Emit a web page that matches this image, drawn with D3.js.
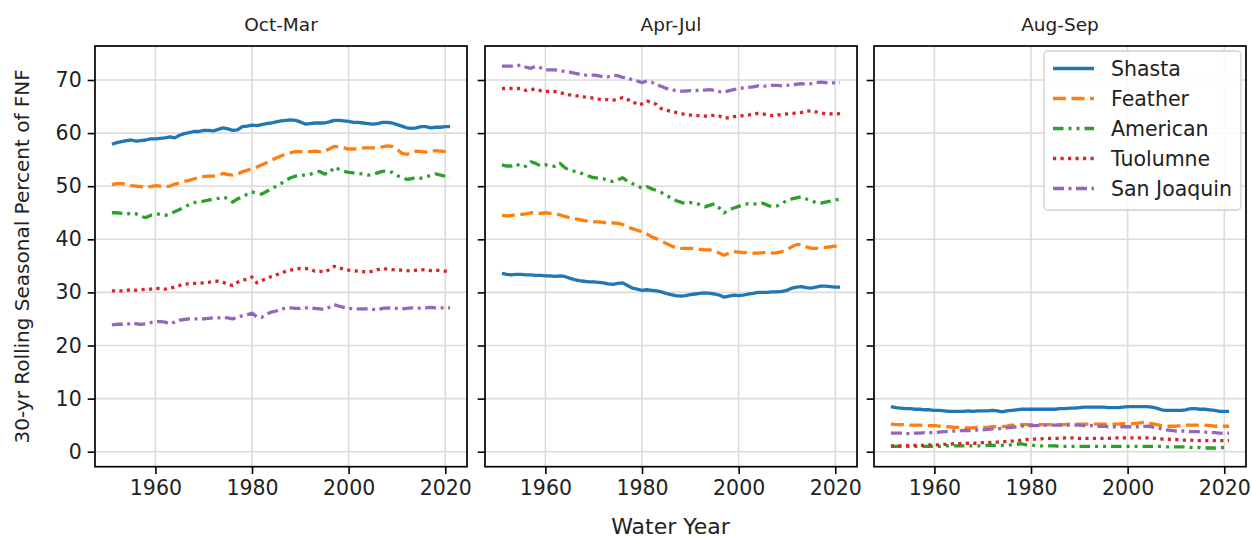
<!DOCTYPE html>
<html>
<head>
<meta charset="utf-8">
<script src="https://cdn.jsdelivr.net/npm/d3@7"></script>
<style>
  html, body { margin: 0; padding: 0; background: #fff; }
  svg { display: block; font-family: "DejaVu Sans", sans-serif; }
</style>
</head>
<body>
<svg id="chart" width="1252" height="539"></svg>
<script>
// Water years covered by the 30-yr rolling window
const years = d3.range(1951, 2022);

const seasons = ["Oct-Mar", "Apr-Jul", "Aug-Sep"];
const basins = ["Shasta", "Feather", "American", "Tuolumne", "San Joaquin"];
const yTicks = [0, 10, 20, 30, 40, 50, 60, 70];
const xTicks = [1960, 1980, 2000, 2020];

// Oct-Mar
const shastaOctMar = [57.9,58.2,58.4,58.6,58.7,58.5,58.6,58.7,58.9,58.9,59.0,59.1,59.3,59.1,59.6,59.9,60.1,60.3,60.3,60.5,60.5,60.4,60.7,61.0,60.8,60.5,60.6,61.2,61.3,61.5,61.4,61.6,61.8,61.9,62.1,62.3,62.4,62.5,62.4,62.1,61.7,61.8,61.9,61.9,61.9,62.1,62.4,62.4,62.3,62.2,62.0,62.0,61.9,61.8,61.7,61.8,62.0,62.0,61.9,61.6,61.3,61.0,60.9,61.0,61.2,61.2,61.0,61.1,61.1,61.2,61.2];
const featherOctMar = [50.3,50.5,50.5,50.3,50.1,50.0,49.9,49.7,49.9,50.1,50.0,49.9,50.0,50.4,50.6,50.9,51.1,51.4,51.6,51.8,51.9,51.9,52.0,52.4,52.2,52.1,52.3,52.7,53.0,53.3,53.6,54.0,54.4,54.9,55.3,55.7,56.1,56.3,56.5,56.5,56.4,56.5,56.6,56.5,56.6,57.0,57.5,57.4,57.2,57.0,57.0,57.1,57.2,57.2,57.2,57.3,57.4,57.6,57.5,57.0,56.2,56.0,56.3,56.6,56.5,56.4,56.5,56.7,56.6,56.5,56.3];
const americanOctMar = [45.0,45.0,44.9,44.7,45.0,44.8,44.3,44.1,44.5,44.8,44.7,44.5,44.8,45.2,45.6,46.1,46.5,46.9,47.1,47.2,47.4,47.5,47.7,48.0,47.6,47.0,47.6,48.0,48.5,48.9,48.7,48.5,49.0,49.5,50.0,50.5,51.1,51.6,51.9,52.1,52.1,52.2,52.6,52.8,52.3,52.4,53.6,53.2,52.8,52.6,52.5,52.4,52.3,52.1,52.2,52.5,52.8,52.9,52.6,52.0,51.6,51.3,51.4,51.7,51.5,51.8,52.0,52.3,52.1,51.9,51.7];
const tuolumneOctMar = [30.3,30.3,30.3,30.3,30.6,30.4,30.5,30.6,30.6,30.8,30.7,30.6,30.8,31.0,31.3,31.6,31.6,31.7,31.7,31.8,31.9,32.1,32.1,31.9,31.5,31.3,31.9,32.3,32.5,32.9,31.8,32.2,32.6,33.0,33.3,33.6,34.0,34.2,34.4,34.5,34.5,34.4,34.0,34.0,33.8,34.3,34.9,34.6,34.4,34.2,34.1,34.0,33.9,33.8,34.0,34.3,34.5,34.4,34.3,34.2,34.2,34.1,34.0,34.2,34.3,34.2,34.1,34.2,34.1,34.0,34.0];
const sanJoaquinOctMar = [23.9,24.0,24.0,23.9,24.3,24.1,24.0,24.1,24.3,24.5,24.5,24.4,24.1,24.4,24.8,24.9,25.0,25.0,25.0,25.0,25.1,25.2,25.2,25.3,25.2,25.0,25.4,25.6,25.8,26.1,25.4,25.3,25.9,26.3,26.5,26.8,27.1,27.1,27.0,27.0,27.1,27.1,27.0,26.9,26.8,27.2,27.7,27.4,27.2,27.0,26.9,26.9,26.9,26.9,26.8,26.7,27.0,27.1,27.0,27.0,26.9,27.0,27.1,27.1,27.0,27.1,27.2,27.1,27.1,27.1,27.1];

// Apr-Jul
const shastaAprJul = [33.6,33.4,33.3,33.4,33.4,33.3,33.3,33.2,33.2,33.1,33.1,33.0,33.1,33.0,32.7,32.4,32.2,32.1,32.0,32.0,31.9,31.8,31.6,31.5,31.7,31.8,31.3,30.8,30.6,30.4,30.5,30.4,30.3,30.1,29.8,29.6,29.4,29.3,29.4,29.6,29.7,29.8,29.9,29.8,29.7,29.5,29.1,29.3,29.5,29.4,29.5,29.7,29.8,30.0,30.0,30.0,30.1,30.1,30.2,30.4,30.8,31.0,31.1,30.9,30.8,31.0,31.2,31.2,31.1,31.0,31.0];
const featherAprJul = [44.5,44.4,44.5,44.6,44.7,44.8,45.0,45.0,44.9,45.0,44.9,44.8,44.6,44.3,44.1,43.9,43.7,43.5,43.4,43.3,43.3,43.2,43.0,43.1,43.0,42.8,42.3,42.0,41.7,41.4,41.0,40.5,40.1,39.7,39.2,38.8,38.4,38.3,38.3,38.3,38.2,38.1,38.0,38.0,37.8,37.4,37.0,37.4,37.7,37.6,37.5,37.5,37.4,37.4,37.5,37.5,37.4,37.5,37.7,38.0,38.6,39.0,39.0,38.6,38.3,38.3,38.4,38.5,38.6,38.7,38.8];
const americanAprJul = [54.0,53.8,53.8,54.2,53.6,53.8,54.6,54.3,53.8,54.0,54.0,53.7,54.3,53.5,53.0,52.8,52.6,52.2,51.9,51.6,51.5,51.4,51.0,50.9,51.2,51.6,50.9,50.5,50.1,49.6,49.9,49.5,49.2,48.8,48.3,47.8,47.3,47.0,46.7,46.9,46.9,46.5,46.1,46.4,46.7,45.9,45.0,45.6,45.9,46.2,46.5,46.7,46.7,46.6,46.8,46.4,46.1,46.3,46.8,47.3,47.6,47.8,48.0,47.6,47.3,46.9,46.8,47.0,47.2,47.4,47.6];
const tuolumneAprJul = [68.4,68.4,68.4,68.4,68.4,68.0,68.2,68.3,68.0,67.8,67.9,67.8,67.6,67.4,67.2,67.0,67.0,66.8,66.7,66.6,66.4,66.3,66.3,66.2,66.4,66.7,66.3,66.1,65.3,65.5,66.0,65.8,65.4,64.6,64.3,64.1,63.9,63.7,63.5,63.4,63.3,63.3,63.2,63.2,63.4,63.2,62.8,62.9,63.1,63.2,63.3,63.4,63.6,63.7,63.6,63.4,63.3,63.4,63.5,63.6,63.7,63.8,63.9,64.1,64.2,64.0,63.8,63.6,63.6,63.7,63.6];
const sanJoaquinAprJul = [72.6,72.6,72.6,72.7,72.8,72.4,72.2,72.6,72.3,71.9,71.9,71.9,71.8,71.6,71.5,71.3,71.1,70.9,70.9,70.9,70.8,70.6,70.6,70.9,70.8,70.5,70.4,70.0,69.8,69.5,69.8,69.6,69.1,68.8,68.4,68.2,68.0,67.9,67.9,68.0,68.0,68.1,68.1,68.2,68.0,67.8,67.7,68.0,68.2,68.4,68.5,68.6,68.7,68.9,68.8,68.9,69.0,69.0,68.9,69.0,69.1,69.2,69.3,69.2,69.3,69.5,69.6,69.5,69.4,69.5,69.5];

// Aug-Sep
const shastaAugSep = [8.5,8.3,8.2,8.1,8.1,8.0,8.0,7.9,7.9,7.8,7.8,7.7,7.6,7.6,7.6,7.6,7.7,7.6,7.7,7.7,7.7,7.8,7.7,7.5,7.7,7.8,7.9,8.0,8.0,8.0,8.0,8.0,8.0,8.0,8.0,8.1,8.1,8.2,8.2,8.3,8.4,8.4,8.4,8.4,8.4,8.3,8.3,8.3,8.4,8.5,8.5,8.5,8.5,8.5,8.4,8.2,7.9,7.8,7.8,7.8,7.8,7.9,8.1,8.1,8.0,8.0,7.9,7.8,7.6,7.6,7.6];
const featherAugSep = [5.2,5.1,5.1,5.1,5.0,5.0,5.0,4.9,4.9,4.9,4.8,4.7,4.7,4.6,4.6,4.5,4.5,4.5,4.6,4.6,4.6,4.7,4.7,4.7,4.8,5.0,5.0,5.1,5.1,5.1,5.1,5.1,5.1,5.1,5.1,5.1,5.1,5.2,5.2,5.2,5.2,5.2,5.2,5.2,5.2,5.2,5.2,5.2,5.3,5.3,5.3,5.4,5.5,5.5,5.3,5.1,4.9,4.8,4.8,4.8,4.9,5.0,5.0,5.0,5.0,5.0,4.9,4.8,4.8,4.8,4.8];
const americanAugSep = [1.0,1.0,1.0,1.0,1.0,1.0,1.0,1.0,1.0,1.0,1.0,1.1,1.1,1.1,1.1,1.1,1.1,1.1,1.1,1.1,1.2,1.2,1.2,1.2,1.3,1.3,1.4,1.5,1.3,1.2,1.2,1.1,1.1,1.1,1.1,1.0,1.0,1.0,1.0,1.0,1.0,1.0,1.0,1.0,1.0,1.0,1.0,1.0,1.0,1.0,1.0,1.0,1.0,1.0,1.0,1.0,1.0,0.9,0.9,0.9,0.9,0.9,0.8,0.8,0.8,0.7,0.7,0.7,0.8,0.8,0.8];
const tuolumneAugSep = [1.1,1.1,1.1,1.1,1.2,1.2,1.2,1.2,1.3,1.3,1.3,1.4,1.4,1.5,1.5,1.5,1.6,1.6,1.6,1.7,1.7,1.8,1.8,1.9,1.9,2.0,2.0,2.2,2.3,2.3,2.4,2.4,2.5,2.5,2.5,2.5,2.6,2.6,2.6,2.5,2.5,2.5,2.5,2.5,2.5,2.5,2.6,2.6,2.6,2.6,2.6,2.6,2.6,2.6,2.6,2.5,2.4,2.4,2.3,2.3,2.2,2.2,2.2,2.1,2.1,2.1,2.1,2.1,2.1,2.1,2.1];
const sanJoaquinAugSep = [3.5,3.5,3.5,3.4,3.4,3.5,3.5,3.6,3.6,3.6,3.7,3.8,3.8,3.9,3.9,4.0,4.0,4.0,4.1,4.1,4.2,4.3,4.3,4.4,4.5,4.6,4.7,4.8,4.9,4.9,4.9,5.0,5.0,5.0,5.0,5.0,5.0,5.0,5.0,5.0,4.9,4.9,4.9,4.8,4.8,4.7,4.7,4.7,4.7,4.7,4.7,4.7,4.7,4.8,4.7,4.5,4.3,4.1,4.0,3.9,3.9,3.9,3.8,3.8,3.8,3.7,3.6,3.6,3.5,3.5,3.5];

const panelSeries = [
  [shastaOctMar, featherOctMar, americanOctMar, tuolumneOctMar, sanJoaquinOctMar],
  [shastaAprJul, featherAprJul, americanAprJul, tuolumneAprJul, sanJoaquinAprJul],
  [shastaAugSep, featherAugSep, americanAugSep, tuolumneAugSep, sanJoaquinAugSep]
];

// Line styling per basin
const colors = ["#1f77b4", "#ff7f0e", "#2ca02c", "#d62728", "#9467bd"];
const dashes = [null, "13 5.5", "10.5 5 3 5 3 5", "3.2 4.3", "11 4.5 3 4.5"];
const lineW = 3.3;

const svg = d3.select("#chart");
const font = "DejaVu Sans, sans-serif";

const panelLeft = [95, 485, 874];
const panelW = 372;
const plotTop = 46, plotBottom = 466.7;

const y = d3.scaleLinear().domain([-2.82, 76.4]).range([plotBottom, plotTop]);

panelLeft.forEach((left, p) => {
  const x = d3.scaleLinear().domain([1947.5, 2024.5]).range([left, left + panelW]);
  const g = svg.append("g");

  // grid
  g.append("g").selectAll("line").data(xTicks).join("line")
    .attr("x1", d => x(d)).attr("x2", d => x(d))
    .attr("y1", plotTop).attr("y2", plotBottom)
    .attr("stroke", "#dcdcdc").attr("stroke-width", 1.6);
  g.append("g").selectAll("line").data(yTicks).join("line")
    .attr("x1", left).attr("x2", left + panelW)
    .attr("y1", d => y(d)).attr("y2", d => y(d))
    .attr("stroke", "#dcdcdc").attr("stroke-width", 1.6);

  // series
  const line = d3.line().x((d, i) => x(years[i])).y(d => y(d));
  panelSeries[p].forEach((vals, s) => {
    g.append("path").datum(vals)
      .attr("d", line)
      .attr("fill", "none")
      .attr("stroke", colors[s])
      .attr("stroke-width", lineW)
      .attr("stroke-linejoin", "round")
      .attr("stroke-dasharray", dashes[s]);
  });

  // axes
  const xAxis = d3.axisBottom(x).tickValues(xTicks).tickFormat(d3.format("d"))
    .tickSize(7.3).tickPadding(6);
  const gx = g.append("g").attr("transform", `translate(0,${plotBottom})`).call(xAxis);
  gx.select(".domain").remove();
  gx.selectAll(".tick line").attr("stroke", "#000").attr("stroke-width", 1.6);
  gx.selectAll(".tick text").attr("fill", "#222").style("font-size", "20.5px").style("font-family", font);

  const yAxis = d3.axisLeft(y).tickValues(yTicks).tickSize(7.3).tickPadding(6);
  const gy = g.append("g").attr("transform", `translate(${left},0)`).call(yAxis);
  gy.select(".domain").remove();
  gy.selectAll(".tick line").attr("stroke", "#000").attr("stroke-width", 1.6);
  if (p === 0) {
    gy.selectAll(".tick text").attr("fill", "#222").style("font-size", "20.5px").style("font-family", font);
  } else {
    gy.selectAll(".tick text").remove();
  }

  // frame
  g.append("rect")
    .attr("x", left).attr("y", plotTop)
    .attr("width", panelW).attr("height", plotBottom - plotTop)
    .attr("fill", "none").attr("stroke", "#000").attr("stroke-width", 1.7);

  // title
  g.append("text")
    .attr("x", left + panelW / 2).attr("y", 31)
    .attr("text-anchor", "middle")
    .attr("fill", "#222")
    .style("font-size", "18.5px").style("font-family", font)
    .text(seasons[p]);
});

// axis labels
svg.append("text")
  .attr("x", (95 + 1246) / 2).attr("y", 534)
  .attr("text-anchor", "middle").attr("fill", "#222")
  .style("font-size", "22px").style("font-family", font)
  .text("Water Year");

svg.append("text")
  .attr("transform", `translate(29,${(plotTop + plotBottom) / 2}) rotate(-90)`)
  .attr("text-anchor", "middle").attr("fill", "#222")
  .style("font-size", "20px").style("font-family", font)
  .text("30-yr Rolling Seasonal Percent of FNF");

// legend
const lg = svg.append("g");
lg.append("rect")
  .attr("x", 1044).attr("y", 51).attr("width", 197).attr("height", 159)
  .attr("rx", 4).attr("fill", "#fff").attr("fill-opacity", 0.85)
  .attr("stroke", "#d0d0d0").attr("stroke-width", 1.3);
basins.forEach((name, i) => {
  const cy = 68.5 + i * 30;
  lg.append("line")
    .attr("x1", 1053).attr("x2", 1094).attr("y1", cy).attr("y2", cy)
    .attr("stroke", colors[i]).attr("stroke-width", lineW)
    .attr("stroke-dasharray", dashes[i]);
  lg.append("text")
    .attr("x", 1111).attr("y", cy).attr("dy", "0.36em")
    .attr("fill", "#222")
    .style("font-size", "20.5px").style("font-family", font)
    .text(name);
});
</script>
</body>
</html>
